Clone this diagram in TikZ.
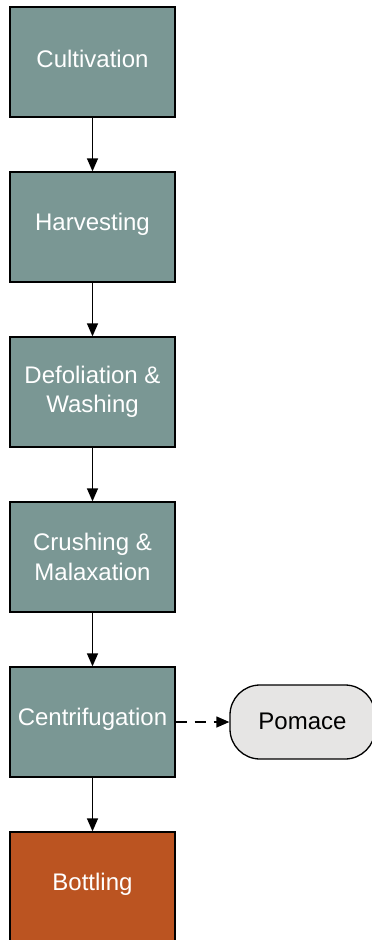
\documentclass[tikz,border=0pt]{standalone}
\usepackage{fontspec}
\setmainfont{Liberation Sans}
\usetikzlibrary{arrows.meta}
\definecolor{stepfill}{HTML}{7A9794}
\definecolor{bottlefill}{HTML}{BB5421}
\definecolor{wastefill}{HTML}{E6E5E4}
% single-line labels sit a little above the box centre
\newcommand{\uplabel}[1]{\raisebox{3pt}[\height][\depth]{#1}}
\begin{document}
\begin{tikzpicture}[x=1pt,y=-1pt,
  stepbox/.style={draw=black, line width=1.3pt, fill=stepfill, text=white,
    minimum width=165pt, minimum height=110pt, inner sep=0pt, align=center,
    font=\fontsize{24}{29.5}\selectfont},
  endbox/.style={stepbox, fill=bottlefill},
  wastebox/.style={draw=black, line width=1.3pt, fill=wastefill, text=black,
    rounded corners=30pt, minimum width=145pt, minimum height=74pt, inner sep=0pt,
    font=\fontsize{24}{29}\selectfont},
  flow/.style={line width=1.3pt, -{Triangle[length=13pt,width=11pt]}},
  side/.style={flow, dash pattern=on 11pt off 8pt}]
\useasboundingbox (0,0) rectangle (372,940);
\node[stepbox] (cult) at (92.5,62) {\uplabel{Cultivation}};
\node[stepbox] (harv) at (92.5,227) {\uplabel{Harvesting}};
\node[stepbox] (defo) at (92.5,392) {Defoliation \&\\Washing};
\node[stepbox] (crush) at (92.5,557) {Crushing \&\\Malaxation};
\node[stepbox] (centr) at (92.5,722) {\uplabel{Centrifugation}};
\node[endbox] (bottle) at (92.5,887) {\uplabel{Bottling}};
\node[wastebox] (pomace) at (302.5,722) {\raisebox{1pt}[\height][\depth]{Pomace}};
\draw[flow] (cult) -- (harv);
\draw[flow] (harv) -- (defo);
\draw[flow] (defo) -- (crush);
\draw[flow] (crush) -- (centr);
\draw[flow] (centr) -- (bottle);
\draw[side] (centr) -- (pomace);
\end{tikzpicture}
\end{document}
